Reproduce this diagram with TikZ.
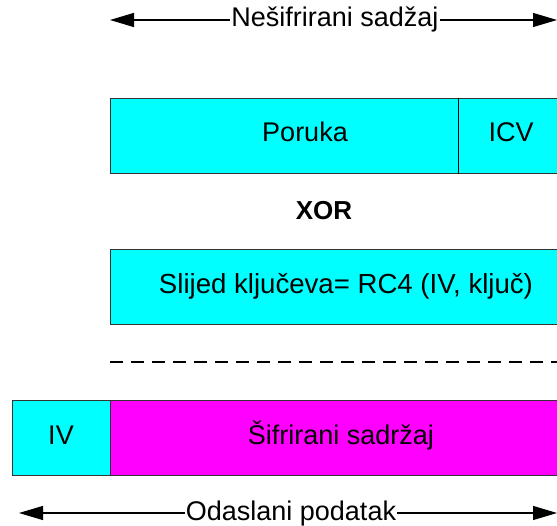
\documentclass[tikz,border=0pt]{standalone}
\usepackage{fontspec}
\setmainfont{Liberation Sans}
\usetikzlibrary{arrows.meta}
\definecolor{cy}{RGB}{0,255,255}
\definecolor{mg}{RGB}{255,0,255}
\begin{document}
\begin{tikzpicture}[x=1pt,y=-1pt,
  box/.style={draw=black!80, line width=1pt, minimum height=75pt, inner sep=0pt, anchor=north west},
  lbl/.style={font=\fontsize{27}{32}\selectfont, inner sep=0pt, text height=20pt, text depth=6pt},
  arr/.style={-{Triangle[length=24pt,width=14pt]}, line width=1.2pt}]
\path[use as bounding box] (0,0) rectangle (557,526);
\clip (0,0) rectangle (557,526);
% row 1
\node[box, fill=cy, minimum width=348pt] (poruka) at (110,98) {};
\node[box, fill=cy, minimum width=120pt] (icv) at (458,98) {};
\draw[line width=1pt, black] (icv.north west) -- (icv.south west);
\node[lbl] (tporuka) at (305,135) {Poruka};
\node[lbl] (ticv) at (511,135) {ICV};
% XOR
\node[lbl, font=\fontsize{26}{30}\selectfont\bfseries] (xor) at (324,213) {XOR};
% row 2
\node[box, fill=cy, minimum width=480pt] (slijed) at (110,249) {};
\node[lbl, font=\fontsize{27.6}{32}\selectfont] (tslijed) at (346,287) {Slijed ključeva= RC4 (IV, ključ)};
% dashed
\coordinate (d1) at (110,362);
\coordinate (d2) at (560,362);
\draw[line width=1.2pt, dash pattern=on 13pt off 8pt] (d1) -- (d2);
% row 3
\node[box, fill=cy, minimum width=98pt] (iv) at (12,400) {};
\node[box, fill=mg, minimum width=480pt] (sif) at (110,400) {};
\node[lbl] (tiv) at (61,437) {IV};
\node[lbl] (tsif) at (341,437) {Šifrirani sadržaj};
% top arrow
\node[lbl, inner xsep=1pt] (top) at (335,20) {Nešifrirani sadžaj};
\coordinate (tl) at (110,20);
\coordinate (tr) at (557,20);
\draw[arr] (top.west) -- (tl);
\draw[arr] (top.east) -- (tr);
% bottom arrow
\node[lbl, inner xsep=1pt] (bot) at (291,513) {Odaslani podatak};
\coordinate (bl) at (19,513);
\coordinate (br) at (557,513);
\draw[arr] (bot.west) -- (bl);
\draw[arr] (bot.east) -- (br);
\end{tikzpicture}
\end{document}
